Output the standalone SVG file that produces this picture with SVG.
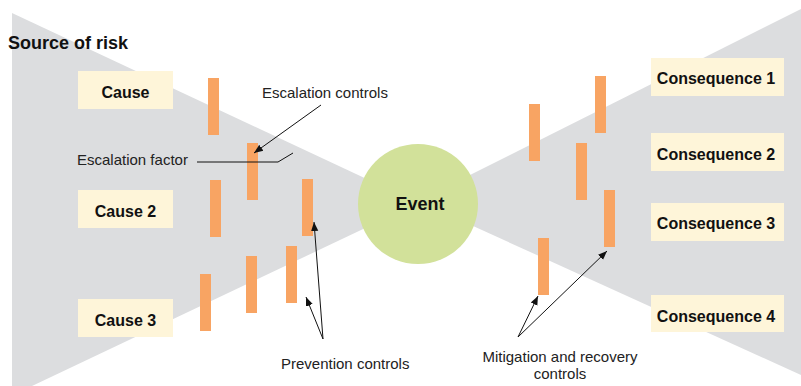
<svg xmlns="http://www.w3.org/2000/svg" width="801" height="386" viewBox="0 0 801 386">
  <style>
    .wedge { fill: #dcdddf; }
    .box { fill: #fef5d9; }
    .bar { fill: #f8a463; }
    .event { fill: #d2e19a; }
    .title { font-family: "Liberation Sans", Arial, sans-serif; font-weight: bold; font-size: 18px; fill: #111; }
    .node { font-family: "Liberation Sans", Arial, sans-serif; font-weight: bold; font-size: 16px; fill: #111; text-anchor: middle; }
    .label { font-family: "Liberation Sans", Arial, sans-serif; font-size: 15px; fill: #222; }
    .lead { stroke: #111; stroke-width: 1; fill: none; }
  </style>
  <defs>
    <marker id="arrow" viewBox="0 0 10 10" refX="10" refY="5" markerWidth="9" markerHeight="9" markerUnits="userSpaceOnUse" orient="auto">
      <path d="M0,1 L10,5 L0,9 Z" fill="#111"/>
    </marker>
  </defs>
  <rect width="801" height="386" fill="#ffffff"/>

  <!-- bow-tie wedges -->
  <polygon class="wedge" points="12,13 418,203 32,386 12,386"/>
  <polygon class="wedge" points="418,201 801,9 801,375"/>

  <text class="title" x="8" y="49">Source of risk</text>

  <!-- causes -->
  <g id="cause1"><rect class="box" x="78" y="71" width="95" height="38"/><text class="node" x="125.5" y="98">Cause</text></g>
  <g id="cause2"><rect class="box" x="78" y="190" width="95" height="38"/><text class="node" x="125.5" y="217">Cause 2</text></g>
  <g id="cause3"><rect class="box" x="78" y="299" width="95" height="38"/><text class="node" x="125.5" y="326">Cause 3</text></g>

  <!-- prevention / escalation barriers -->
  <g id="barriers-left">
    <rect class="bar" x="208" y="78" width="11" height="57"/>
    <rect class="bar" x="247" y="143" width="11" height="57"/>
    <rect class="bar" x="210" y="180" width="11" height="57"/>
    <rect class="bar" x="302" y="179" width="11" height="57"/>
    <rect class="bar" x="200" y="274" width="11" height="57"/>
    <rect class="bar" x="246" y="256" width="11" height="57"/>
    <rect class="bar" x="286" y="246" width="11" height="57"/>
  </g>

  <!-- central event -->
  <g id="event"><circle class="event" cx="418" cy="204" r="60"/><text class="node" x="420" y="210" style="font-size:18px">Event</text></g>

  <!-- mitigation / recovery barriers -->
  <g id="barriers-right">
    <rect class="bar" x="529" y="104" width="11" height="57"/>
    <rect class="bar" x="595" y="76" width="11" height="57"/>
    <rect class="bar" x="576" y="143" width="11" height="57"/>
    <rect class="bar" x="604" y="190" width="11" height="57"/>
    <rect class="bar" x="538" y="238" width="11" height="57"/>
  </g>

  <!-- consequences -->
  <g id="consequence1"><rect class="box" x="651" y="58" width="133" height="38"/><text class="node" x="716" y="84">Consequence 1</text></g>
  <g id="consequence2"><rect class="box" x="651" y="133" width="133" height="38"/><text class="node" x="716" y="160">Consequence 2</text></g>
  <g id="consequence3"><rect class="box" x="651" y="203" width="133" height="38"/><text class="node" x="716" y="229">Consequence 3</text></g>
  <g id="consequence4"><rect class="box" x="651" y="295" width="133" height="37"/><text class="node" x="716" y="322">Consequence 4</text></g>

  <!-- annotation labels -->
  <g id="labels">
    <text class="label" x="262" y="98">Escalation controls</text>
    <text class="label" x="77" y="165">Escalation factor</text>
    <text class="label" x="281" y="369">Prevention controls</text>
    <text class="label" x="560" y="362" text-anchor="middle">Mitigation and recovery</text>
    <text class="label" x="560" y="379" text-anchor="middle">controls</text>
  </g>

  <!-- leader lines and arrows -->
  <g id="connectors">
    <polyline class="lead" points="197,162 278,162 293,153"/>
    <line class="lead" x1="321" y1="105" x2="254" y2="153" marker-end="url(#arrow)"/>
    <line class="lead" x1="323" y1="339" x2="314" y2="222" marker-end="url(#arrow)"/>
    <line class="lead" x1="323" y1="339" x2="306" y2="297" marker-end="url(#arrow)"/>
    <line class="lead" x1="518" y1="337" x2="538" y2="296" marker-end="url(#arrow)"/>
    <line class="lead" x1="518" y1="337" x2="607" y2="251" marker-end="url(#arrow)"/>
  </g>
</svg>
